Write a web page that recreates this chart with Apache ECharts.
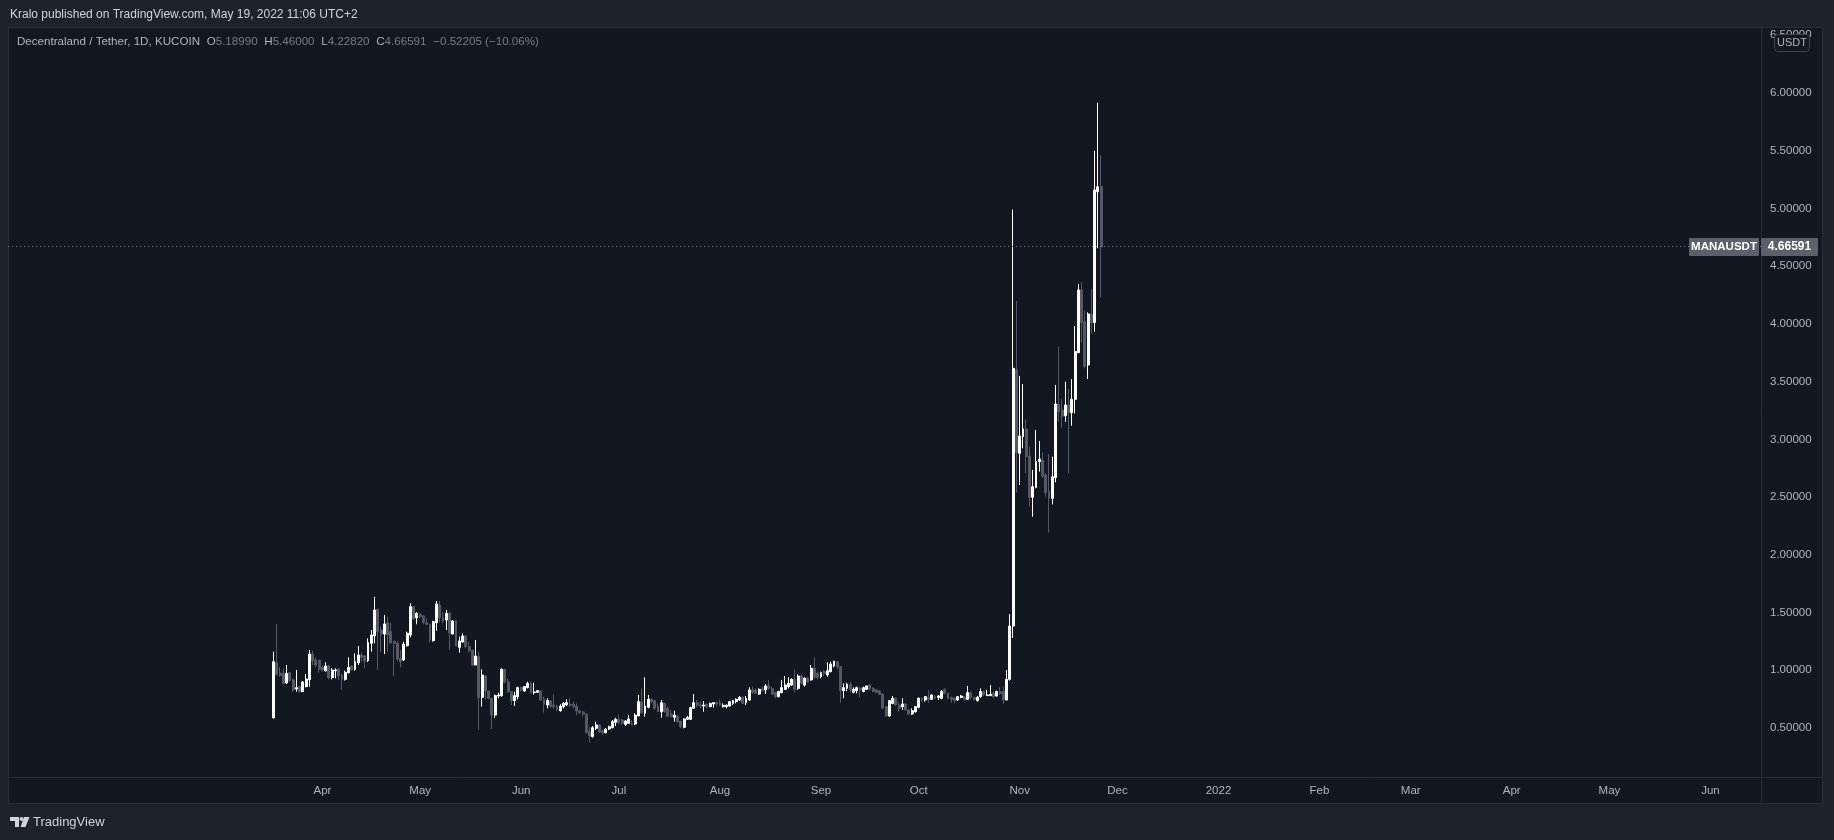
<!DOCTYPE html>
<html>
<head>
<meta charset="utf-8">
<script src="https://cdn.jsdelivr.net/npm/echarts@6/dist/echarts.min.js"></script>
<style>
  html, body { margin: 0; padding: 0; background: #1e222d; width: 1834px; height: 840px; overflow: hidden; }
  #panel { position: absolute; left: 8px; top: 27px; width: 1815px; height: 777px; box-sizing: border-box; background: #131722; border: 1px solid #2a2e39; }
  #chart { position: absolute; left: 0; top: 0; width: 1834px; height: 840px; }
</style>
</head>
<body>
<div id="panel"></div>
<div id="chart"></div>
<script>
// ---- data ----
const firstCandleDate = '2021-03-17';
const firstLabelDate = '2021-04-01';
const axisStart = '2020-12-26';
const axisEnd = '2022-06-16';
const monthNames = ['Jan','Feb','Mar','Apr','May','Jun','Jul','Aug','Sep','Oct','Nov','Dec'];
const priceTicks = [0.5,1,1.5,2,2.5,3,3.5,4,4.5,5,5.5,6,6.5];

const openV = [
0.589,1.066,0.975,0.973,0.890,0.979,0.916,0.838,0.858,0.814,
0.858,0.918,1.141,1.089,1.089,1.025,0.996,1.037,0.936,0.996,
1.011,0.959,0.921,0.979,1.037,1.008,1.066,1.132,1.123,1.083,
1.233,1.297,1.528,1.349,1.314,1.412,1.334,1.253,1.233,1.103,
1.089,1.213,1.305,1.551,1.455,1.484,1.470,1.412,1.398,1.256,
1.412,1.565,1.458,1.435,1.493,1.314,1.429,1.198,1.245,1.297,
1.204,1.175,1.045,1.118,0.765,0.950,0.820,0.757,0.612,0.777,
0.780,1.008,0.901,0.814,0.737,0.771,0.852,0.820,0.849,0.887,
0.806,0.809,0.820,0.748,0.699,0.734,0.699,0.690,0.650,0.685,
0.702,0.705,0.705,0.690,0.647,0.638,0.621,0.468,0.425,0.497,
0.526,0.474,0.459,0.491,0.503,0.549,0.575,
0.569,0.531,0.540,0.540,0.534,0.604,0.728,0.627,0.679,0.748,
0.737,0.690,0.641,0.713,0.670,0.621,0.592,0.604,0.560,0.506,
0.575,0.575,0.670,0.719,0.699,0.690,0.705,0.685,0.708,0.719,
0.719,0.685,0.685,0.690,0.713,0.728,0.742,0.765,0.719,0.742,
0.829,0.829,0.794,0.835,0.829,0.864,0.843,0.806,0.771,0.806,
0.835,0.858,0.872,0.921,0.843,0.950,0.872,0.930,0.916,1.017,
0.973,0.944,0.988,0.959,0.988,1.037,1.074,1.031,0.823,0.843,
0.878,0.809,0.823,0.843,0.815,0.835,0.872,0.843,0.829,0.820,
0.794,0.685,0.604,0.713,0.757,0.699,0.685,0.708,0.656,0.621,
0.641,0.679,0.757,0.742,0.765,0.748,0.771,0.765,0.757,0.835,
0.800,0.765,0.757,0.742,0.765,0.771,0.748,0.806,0.765,0.737,
0.771,0.815,0.780,0.780,0.800,0.777,0.815,0.815,0.742,0.921,
1.383,3.601,2.879,3.023,3.090,2.856,2.498,2.584,2.807,2.821,
2.691,2.553,2.489,2.668,3.306,3.254,3.205,3.298,3.231,3.347,
3.751,4.294,4.019,3.644,4.086,4.011,5.145,5.18990];

const highV = [
1.161,1.401,1.025,1.014,1.045,0.985,0.927,1.002,0.864,0.907,
0.967,1.175,1.170,1.112,1.089,1.045,1.069,1.045,1.017,1.017,
1.017,0.973,0.996,1.112,1.045,1.146,1.210,1.152,1.132,1.276,
1.349,1.637,1.536,1.377,1.479,1.464,1.412,1.256,1.253,1.175,
1.248,1.334,1.580,1.551,1.502,1.499,1.479,1.450,1.406,1.429,
1.600,1.600,1.507,1.522,1.507,1.435,1.435,1.291,1.320,1.297,
1.248,1.175,1.262,1.161,1.008,0.959,0.820,0.757,0.791,0.806,
1.017,1.008,0.930,0.820,0.814,0.858,0.858,0.864,0.901,0.901,
0.892,0.829,0.829,0.771,0.757,0.742,0.794,0.699,0.705,0.725,
0.748,0.757,0.728,0.713,0.656,0.647,0.627,0.511,0.517,0.555,
0.532,0.488,0.497,0.520,0.569,0.589,0.618,
0.578,0.569,0.612,0.569,0.627,0.786,0.843,0.939,0.786,0.757,
0.742,0.713,0.742,0.719,0.685,0.656,0.650,0.604,0.560,0.583,
0.604,0.685,0.794,0.742,0.728,0.734,0.713,0.719,0.725,0.728,
0.748,0.713,0.705,0.734,0.742,0.757,0.777,0.777,0.777,0.852,
0.858,0.843,0.843,0.858,0.881,0.916,0.858,0.815,0.823,0.916,
0.950,0.939,0.930,1.008,0.965,0.965,0.939,0.944,1.045,1.112,
0.988,0.988,1.002,1.069,1.074,1.080,1.074,1.037,0.887,0.892,
0.901,0.852,0.858,0.858,0.858,0.864,0.881,0.852,0.835,0.829,
0.800,0.690,0.742,0.777,0.765,0.728,0.757,0.713,0.661,0.670,
0.690,0.765,0.765,0.777,0.829,0.791,0.786,0.786,0.829,0.843,
0.806,0.771,0.765,0.777,0.786,0.777,0.864,0.815,0.771,0.777,
0.843,0.823,0.829,0.872,0.815,0.823,0.852,0.858,1.002,1.487,
4.990,4.198,3.549,3.479,3.173,2.937,2.735,3.081,2.986,2.885,
2.711,2.873,2.850,3.471,3.803,3.347,3.500,3.436,3.523,3.982,
4.346,4.363,4.115,4.100,4.302,5.500,5.916,5.46000];

const lowV = [
0.580,0.953,0.944,0.884,0.881,0.901,0.814,0.814,0.806,0.812,
0.852,0.858,1.043,1.025,0.979,0.988,0.988,0.921,0.921,0.930,
0.916,0.829,0.910,0.973,0.996,0.996,1.045,1.074,1.017,1.071,
1.161,1.233,1.002,1.161,1.141,1.161,1.227,0.950,1.080,1.025,
1.080,1.204,1.285,1.441,1.398,1.450,1.398,1.392,1.239,1.248,
1.343,1.412,1.412,1.349,1.175,1.311,1.210,1.152,1.239,1.190,
1.152,1.037,1.045,0.482,0.685,0.748,0.748,0.491,0.589,0.757,
0.771,0.887,0.806,0.699,0.690,0.748,0.814,0.814,0.843,0.800,
0.791,0.806,0.737,0.633,0.670,0.676,0.664,0.647,0.641,0.670,
0.690,0.679,0.670,0.612,0.621,0.598,0.454,0.373,0.416,0.482,
0.459,0.439,0.454,0.482,0.497,0.517,0.532,
0.526,0.517,0.534,0.523,0.526,0.604,0.621,0.598,0.670,0.713,
0.656,0.641,0.589,0.633,0.598,0.592,0.555,0.546,0.497,0.497,
0.569,0.569,0.664,0.679,0.670,0.641,0.670,0.679,0.676,0.685,
0.690,0.676,0.670,0.685,0.699,0.713,0.734,0.708,0.699,0.737,
0.794,0.794,0.786,0.815,0.794,0.829,0.786,0.757,0.765,0.800,
0.829,0.843,0.864,0.806,0.829,0.878,0.858,0.892,0.910,0.921,
0.921,0.930,0.950,0.944,0.982,1.025,1.008,0.719,0.757,0.820,
0.806,0.800,0.800,0.765,0.809,0.829,0.829,0.809,0.800,0.786,
0.664,0.598,0.598,0.705,0.693,0.641,0.656,0.650,0.612,0.612,
0.633,0.670,0.728,0.728,0.719,0.742,0.748,0.742,0.748,0.791,
0.748,0.719,0.713,0.737,0.757,0.734,0.742,0.748,0.737,0.728,
0.762,0.777,0.777,0.777,0.757,0.771,0.786,0.708,0.742,0.910,
1.280,2.538,2.605,2.922,2.706,2.417,2.330,2.576,2.720,2.662,
2.504,2.192,2.437,2.628,3.153,3.101,3.153,2.706,3.118,3.225,
3.751,3.837,3.615,3.523,3.918,3.933,4.655,4.22820];

const closeV = [
1.074,0.965,0.955,0.884,0.973,0.910,0.829,0.849,0.814,0.898,
0.924,1.141,1.083,1.045,1.008,1.002,1.037,0.936,1.002,1.002,
0.950,0.921,0.982,1.025,1.002,1.074,1.132,1.112,1.080,1.239,
1.305,1.522,1.334,1.314,1.401,1.305,1.239,1.233,1.095,1.074,
1.227,1.320,1.551,1.444,1.493,1.464,1.412,1.398,1.262,1.421,
1.574,1.455,1.427,1.493,1.320,1.427,1.210,1.253,1.297,1.204,
1.170,1.045,1.123,0.762,0.959,0.820,0.757,0.612,0.780,0.786,
1.008,0.895,0.814,0.737,0.780,0.849,0.829,0.858,0.887,0.806,
0.812,0.823,0.742,0.705,0.737,0.685,0.685,0.661,0.690,0.713,
0.719,0.699,0.685,0.647,0.633,0.621,0.459,0.430,0.503,0.526,
0.468,0.459,0.491,0.511,0.555,0.575,0.546,
0.540,0.560,0.578,0.531,0.612,0.728,0.633,0.690,0.748,0.728,
0.670,0.641,0.719,0.641,0.598,0.598,0.612,0.555,0.511,0.578,
0.592,0.676,0.719,0.696,0.690,0.699,0.685,0.713,0.719,0.708,
0.699,0.696,0.696,0.728,0.737,0.748,0.765,0.713,0.757,0.829,
0.809,0.800,0.835,0.823,0.864,0.843,0.794,0.771,0.815,0.849,
0.872,0.887,0.921,0.835,0.950,0.887,0.930,0.901,1.017,0.939,
0.939,0.979,0.973,0.996,1.054,1.080,1.031,0.823,0.849,0.878,
0.829,0.835,0.849,0.829,0.849,0.864,0.835,0.815,0.809,0.791,
0.670,0.604,0.737,0.757,0.699,0.670,0.708,0.656,0.621,0.650,
0.685,0.757,0.742,0.771,0.748,0.786,0.757,0.777,0.815,0.800,
0.757,0.748,0.737,0.771,0.777,0.748,0.806,0.762,0.748,0.765,
0.815,0.786,0.786,0.791,0.771,0.815,0.800,0.742,0.921,1.383,
3.615,2.885,3.029,3.090,2.850,2.498,2.590,2.807,2.830,2.682,
2.538,2.489,2.677,3.306,3.240,3.202,3.298,3.231,3.347,3.760,
4.294,4.011,3.630,4.086,4.011,5.160,5.18796,4.66591];

// ---- build category axis (one slot per day) ----
function ymd(t) { return new Date(t).toISOString().slice(0, 10); }
const categories = [];
for (let t = Date.parse(axisStart + 'T00:00:00Z'); t <= Date.parse(axisEnd + 'T00:00:00Z'); t += 86400000) {
  categories.push(ymd(t));
}
const offset = categories.indexOf(firstCandleDate);
const candleData = categories.map((c, i) => {
  const k = i - offset;
  if (k >= 0 && k < openV.length) return [openV[k], closeV[k], lowV[k], highV[k]];
  return '-';
});
const n = closeV.length;
const lastClose = closeV[n - 1];
const lastOpen = openV[n - 1];
const lastHigh = highV[n - 1];
const lastLow = lowV[n - 1];
const prevClose = closeV[n - 2];
const chg = lastClose - prevClose;
const chgPct = chg / prevClose * 100;

const FONT = '"Liberation Sans", Arial, sans-serif';
const UP = '#ffffff', DOWN = '#565965';

const chart = echarts.init(document.getElementById('chart'), null, { renderer: 'canvas' });
const fmt5 = v => v.toFixed(5);
const sgn = v => (v < 0 ? '\u2212' : '');

const legendText = '{t|Decentraland / Tether, 1D, KUCOIN}  {k|O}{v|' + lastOpen.toFixed(5) + '}  {k|H}{v|' + lastHigh.toFixed(5) +
  '}  {k|L}{v|' + lastLow.toFixed(5) + '}  {k|C}{v|' + lastClose.toFixed(5) + '}  {v|' + sgn(chg) + Math.abs(chg).toFixed(5) +
  ' (' + sgn(chgPct) + Math.abs(chgPct).toFixed(2) + '%)}';

const option = {
  backgroundColor: 'transparent',
  animation: false,
  textStyle: { fontFamily: FONT },
  grid: { left: 8, right: 1834 - 1761, top: 785.7 - 6.5 * 115.45, bottom: 840 - 785.7, containLabel: false },
  xAxis: {
    type: 'category',
    data: categories,
    boundaryGap: true,
    offset: -8.7,
    axisLine: { show: false },
    axisTick: { show: false },
    splitLine: { show: false },
    axisLabel: {
      interval: (idx, val) => val.slice(8) === '01' && val >= firstLabelDate,
      formatter: val => { const m = +val.slice(5, 7); return m === 1 ? val.slice(0, 4) : monthNames[m - 1]; },
      color: '#b2b5be', fontSize: 11.5, fontFamily: FONT, margin: 8
    }
  },
  yAxis: {
    type: 'value',
    position: 'right',
    min: 0, max: 6.5, interval: 0.5,
    axisLine: { show: false },
    axisTick: { show: false },
    splitLine: { show: false },
    axisLabel: {
      showMinLabel: false,
      formatter: v => priceTicks.indexOf(v) >= 0 ? fmt5(v) : '',
      color: '#b2b5be', fontSize: 11.5, fontFamily: FONT, margin: 9
    }
  },
  series: [{
    type: 'candlestick',
    data: candleData,
    barWidth: 2.4,
    itemStyle: { color: UP, color0: DOWN, borderColor: UP, borderColor0: DOWN, borderWidth: 1 },
    markLine: {
      silent: true, symbol: ['none', 'none'], animation: false,
      label: { show: false },
      lineStyle: { color: '#787b86', type: [1, 3], width: 1 },
      data: [{ yAxis: lastClose }]
    }
  }],
  graphic: [
    { type: 'line', id: 'sepV', shape: { x1: 1761.5, y1: 28, x2: 1761.5, y2: 803 }, style: { stroke: '#2a2e39', lineWidth: 1 }, silent: true },
    { type: 'line', id: 'sepH', shape: { x1: 9, y1: 777.5, x2: 1822, y2: 777.5 }, style: { stroke: '#2a2e39', lineWidth: 1 }, silent: true },
    { type: 'text', id: 'hdr', x: 10, y: 15, style: { text: 'Kralo published on TradingView.com, May 19, 2022 11:06 UTC+2', fill: '#d1d4dc', font: '12px ' + FONT, verticalAlign: 'middle' } },
    { type: 'text', id: 'leg', x: 17, y: 42, style: {
        text: legendText, verticalAlign: 'middle',
        rich: {
          t: { fill: '#b2b5be', font: '11.6px ' + FONT },
          k: { fill: '#b2b5be', font: '11.6px ' + FONT },
          v: { fill: '#787b86', font: '11.6px ' + FONT }
        }
      } },
    { type: 'rect', id: 'usdtBox', shape: { x: 1774.5, y: 34.5, width: 35, height: 17, r: 3 }, style: { fill: '#131722', stroke: '#434651', lineWidth: 1 }, z: 10 },
    { type: 'text', id: 'usdtTxt', x: 1792, y: 43, style: { text: 'USDT', fill: '#b2b5be', font: '11px ' + FONT, align: 'center', verticalAlign: 'middle' }, z: 11 },
    { type: 'polygon', id: 'logo1', shape: { points: [[10, 817], [19, 817], [19, 827], [15, 827], [15, 821], [10, 821]] }, style: { fill: '#d1d4dc' } },
    { type: 'circle', id: 'logo2', shape: { cx: 21.5, cy: 819, r: 2 }, style: { fill: '#d1d4dc' } },
    { type: 'polygon', id: 'logo3', shape: { points: [[24, 817], [29.5, 817], [25.5, 827], [20.5, 827]] }, style: { fill: '#d1d4dc' } },
    { type: 'text', id: 'tv', x: 33, y: 822, style: { text: 'TradingView', fill: '#d1d4dc', font: '13px ' + FONT, verticalAlign: 'middle' } }
  ]
};
chart.setOption(option);

// price tag boxes, placed at the last close through the y scale
const py = chart.convertToPixel({ yAxisIndex: 0 }, lastClose);
chart.setOption({
  graphic: [
    { type: 'rect', id: 'tagL', shape: { x: 1689, y: py - 9, width: 70, height: 18, r: 1 }, style: { fill: '#5d606b' }, z: 20 },
    { type: 'text', id: 'tagLt', x: 1724, y: py, style: { text: 'MANAUSDT', fill: '#ffffff', font: 'bold 11.5px ' + FONT, align: 'center', verticalAlign: 'middle' }, z: 21 },
    { type: 'rect', id: 'tagR', shape: { x: 1761, y: py - 9, width: 57, height: 18, r: 1 }, style: { fill: '#5d606b' }, z: 20 },
    { type: 'text', id: 'tagRt', x: 1789.5, y: py, style: { text: fmt5(lastClose), fill: '#ffffff', font: 'bold 12px ' + FONT, align: 'center', verticalAlign: 'middle' }, z: 21 }
  ]
});
</script>
</body>
</html>
